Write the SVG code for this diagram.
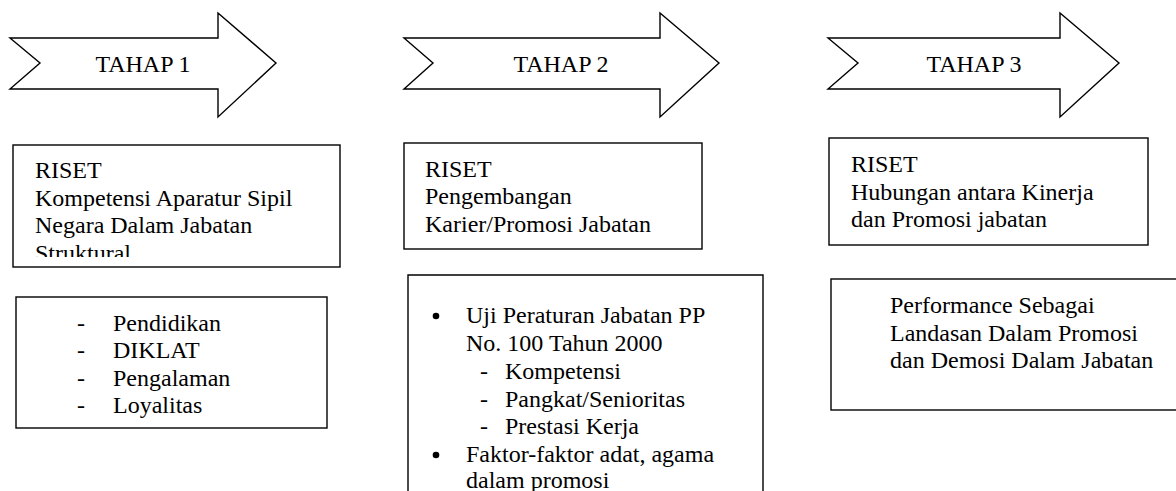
<svg xmlns="http://www.w3.org/2000/svg" width="1176" height="491" viewBox="0 0 1176 491">
<style>
.s{fill:#fff;stroke:#000;stroke-width:1.4}
.t{font-family:'Liberation Serif','DejaVu Serif',serif;font-size:24px;fill:#000}
.c{text-anchor:middle}
</style>
<defs>
<clipPath id="c1"><rect x="14" y="146" width="325" height="111"/></clipPath>
</defs>
<rect width="1176" height="491" fill="#fff"/>
<g id="arrow1">
<polygon class="s" points="10,38 218,38 218,13 276,63 218,117 218,89 10,89 40,63"/>
<text class="t c" x="143" y="72">TAHAP 1</text>
</g>
<g id="arrow2">
<polygon class="s" points="404,38 660,38 660,13 719,63 660,117 660,89 404,89 433,63"/>
<text class="t c" x="561" y="72">TAHAP 2</text>
</g>
<g id="arrow3">
<polygon class="s" points="828,38 1060,38 1060,13 1119,63 1060,117 1060,89 828,89 858,63"/>
<text class="t c" x="974" y="72">TAHAP 3</text>
</g>
<g id="riset1">
<rect class="s" x="13" y="145" width="327" height="122"/>
<g clip-path="url(#c1)">
<text class="t" x="35" y="178">RISET</text>
<text class="t" x="35" y="206">Kompetensi Aparatur Sipil</text>
<text class="t" x="35" y="233">Negara Dalam Jabatan</text>
<text class="t" x="35" y="261">Struktural</text>
</g>
</g>
<g id="riset2">
<rect class="s" x="404" y="143" width="298" height="106"/>
<text class="t" x="425" y="177">RISET</text>
<text class="t" x="425" y="204">Pengembangan</text>
<text class="t" x="425" y="232">Karier/Promosi Jabatan</text>
</g>
<g id="riset3">
<rect class="s" x="829" y="138" width="319" height="107"/>
<text class="t" x="851" y="172">RISET</text>
<text class="t" x="851" y="200">Hubungan antara Kinerja</text>
<text class="t" x="851" y="227">dan Promosi jabatan</text>
</g>
<g id="detail1">
<rect class="s" x="16" y="297" width="311" height="131"/>
<text class="t" x="77" y="331">-</text><text class="t" x="113" y="331">Pendidikan</text>
<text class="t" x="77" y="358">-</text><text class="t" x="113" y="358">DIKLAT</text>
<text class="t" x="77" y="386">-</text><text class="t" x="113" y="386">Pengalaman</text>
<text class="t" x="77" y="413">-</text><text class="t" x="113" y="413">Loyalitas</text>
</g>
<g id="detail2">
<path class="s" d="M408,495 V275 H763 V495"/>
<circle cx="436" cy="316" r="3.3"/>
<text class="t" x="466" y="323">Uji Peraturan Jabatan PP</text>
<text class="t" x="466" y="351">No. 100 Tahun 2000</text>
<text class="t" x="480" y="379">-</text><text class="t" x="505" y="379">Kompetensi</text>
<text class="t" x="480" y="407">-</text><text class="t" x="505" y="407">Pangkat/Senioritas</text>
<text class="t" x="480" y="434">-</text><text class="t" x="505" y="434">Prestasi Kerja</text>
<circle cx="436" cy="455" r="3.3"/>
<text class="t" x="466" y="462">Faktor-faktor adat, agama</text>
<text class="t" x="466" y="488">dalam promosi</text>
</g>
<g id="detail3">
<rect class="s" x="831" y="279" width="360" height="131"/>
<text class="t" x="890" y="313">Performance Sebagai</text>
<text class="t" x="890" y="341">Landasan Dalam Promosi</text>
<text class="t" x="890" y="368">dan Demosi Dalam Jabatan</text>
</g>
<g id="connectors"/>
</svg>
